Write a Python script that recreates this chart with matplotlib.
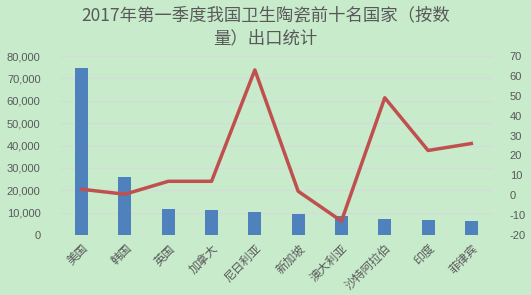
import matplotlib
matplotlib.use("Agg")
import matplotlib.pyplot as plt
import numpy as np

plt.rcParams['font.family'] = ['Noto Sans CJK SC', 'DejaVu Sans']

categories = ["美国", "韩国", "英国", "加拿大", "尼日利亚", "新加坡", "澳大利亚", "沙特阿拉伯", "印度", "菲律宾"]
quantity = [74500, 25900, 11600, 11200, 10300, 9400, 8500, 7100, 6700, 6200]
growth = [3, 0.5, 7, 7, 63, 2, -13, 49, 22.5, 26]
left_ticks = [0, 10000, 20000, 30000, 40000, 50000, 60000, 70000, 80000]
right_ticks = [-20, -10, 0, 10, 20, 30, 40, 50, 60, 70]

bg = "#c8ebcc"
txt = "#595959"

fig = plt.figure(figsize=(5.31, 2.95), dpi=100, facecolor=bg)
ax = fig.add_axes([60/531, 1-235/295, 433/531, 179/295])
ax.set_facecolor(bg)
x = np.arange(len(categories))
ax.bar(x, quantity, width=0.3, color="#4f81bd", zorder=2)
ax.set_ylim(0, 80000)
ax.set_xlim(-0.5, len(categories)-0.5)
ax.set_yticks(left_ticks)
ax.set_yticklabels([f"{v:,}" for v in left_ticks], color=txt, fontsize=8, family='Liberation Sans')
ax.grid(axis='y', color="#d9d9d9", linewidth=0.8, zorder=0)
ax.set_xticks(x)
ax.set_xticklabels(categories, rotation=45, ha='right', rotation_mode='anchor', color=txt, fontsize=8.5)
ax.tick_params(axis='y', length=0, pad=14)
ax.tick_params(axis='x', length=0, pad=5)
for s in ax.spines.values():
    s.set_visible(False)

ax2 = ax.twinx()
ax2.plot(x, growth, color="#c0504d", linewidth=2.5, zorder=3)
ax2.set_ylim(-20, 70)
ax2.set_yticks(right_ticks)
ax2.set_yticklabels([str(v) for v in right_ticks], color=txt, fontsize=8, family='Liberation Sans')
ax2.tick_params(axis='both', length=0, pad=12)
for s in ax2.spines.values():
    s.set_visible(False)

fig.text(0.5, 1-15/295, "2017年第一季度我国卫生陶瓷前十名国家（按数", ha='center', va='center', fontsize=12.5, color=txt)
fig.text(0.5, 1-38/295, "量）出口统计", ha='center', va='center', fontsize=12.5, color=txt)

fig.savefig("out.png", dpi=100, facecolor=bg)
